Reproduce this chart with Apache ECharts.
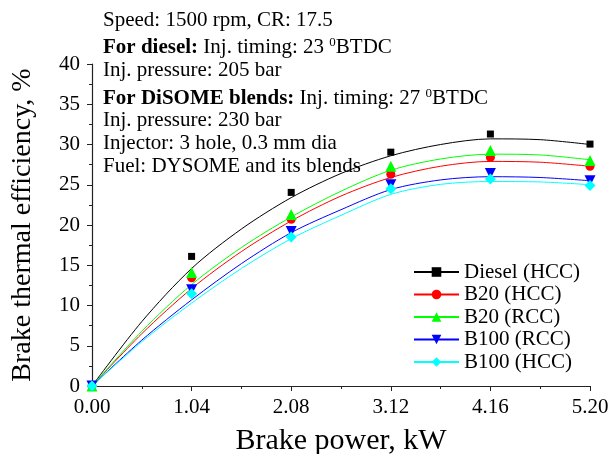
<!DOCTYPE html>
<html>
<head>
<meta charset="utf-8">
<script src="https://cdn.jsdelivr.net/npm/echarts@6/dist/echarts.min.js"></script>
<style>
  html, body { margin: 0; padding: 0; background: #fff; }
  #chart { width: 609px; height: 454px; }
</style>
</head>
<body>
<div id="chart"></div>
<script>
// measured points
const pointX = [0, 1.04, 2.08, 3.12, 4.16, 5.2]
const dieselHcc = [0, 16.1, 24.05, 29.05, 31.3, 30.05]
const b20Hcc = [0, 13.45, 20.7, 26.3, 28.4, 27.3]
const b20Rcc = [0, 14.1, 21.3, 27.3, 29.25, 28.0]
const b100Rcc = [0, 11.95, 19.2, 25.0, 26.4, 25.5]
const b100Hcc = [0, 11.45, 18.5, 24.5, 25.7, 24.9]

// fitted curves
const curveX = [0, 0.52, 1.04, 1.56, 2.08, 2.6, 3.12, 3.64, 4.16, 4.68, 5.2]
const dieselFit = [0, 8.0, 14.6, 19.5, 23.4, 26.4, 28.6, 30.0, 30.7, 30.6, 30.0]
const b20HccFit = [0, 6.5, 12.1, 16.7, 20.5, 23.6, 25.9, 27.3, 27.9, 27.8, 27.3]
const b20RccFit = [0, 6.8, 12.6, 17.2, 21.0, 24.2, 26.8, 28.2, 28.8, 28.7, 28.1]
const b100RccFit = [0, 5.7, 10.7, 15.2, 19.05, 21.9, 24.4, 25.6, 26.0, 25.9, 25.5]
const b100HccFit = [0, 5.5, 10.3, 14.6, 18.3, 21.2, 23.8, 25.05, 25.4, 25.35, 25.0]

const names = ['Diesel (HCC)', 'B20 (HCC)', 'B20 (RCC)', 'B100 (RCC)', 'B100 (HCC)']
const colors = ['#000000', '#ff0000', '#00ff00', '#0000ff', '#00ffff']
const symbols = ['rect', 'circle', 'triangle', 'triangle', 'diamond']
const symbolRotates = [0, 0, 0, 180, 0]
const symbolSizes = [7, 9, 11, 11, 11]
const points = [dieselHcc, b20Hcc, b20Rcc, b100Rcc, b100Hcc]
const fits = [dieselFit, b20HccFit, b20RccFit, b100RccFit, b100HccFit]

const font = '"Liberation Serif", "Times New Roman", serif'

function pairs(xs, ys) {
  return xs.map((x, i) => [x, ys[i]])
}

const series = []
names.forEach((name, i) => {
  series.push({
    name: name,
    type: 'line',
    smooth: 0.3,
    data: pairs(curveX, fits[i]),
    showSymbol: false,
    symbol: symbols[i],
    symbolRotate: symbolRotates[i],
    color: colors[i],
    lineStyle: { width: 1, color: colors[i] },
    silent: true,
    z: 2
  })
})
names.forEach((name, i) => {
  series.push({
    name: name + ' pts',
    type: 'scatter',
    data: pairs(pointX, points[i]),
    symbol: symbols[i],
    symbolRotate: symbolRotates[i],
    symbolSize: symbolSizes[i],
    itemStyle: { color: colors[i], opacity: 1 },
    z: 3
  })
})

const noteLines = [
  { y: 20, text: 'Speed: 1500 rpm, CR: 17.5' },
  { y: 46, text: '{b|For diesel:} Inj. timing: 23 {sup|0}BTDC' },
  { y: 70, text: 'Inj. pressure: 205 bar' },
  { y: 97, text: '{b|For DiSOME blends:} Inj. timing: 27 {sup|0}BTDC' },
  { y: 120, text: 'Inj. pressure: 230 bar' },
  { y: 143, text: 'Injector: 3 hole, 0.3 mm dia' },
  { y: 166, text: 'Fuel: DYSOME and its blends' }
]

const myChart = echarts.init(document.getElementById('chart'))
const option = {
  animation: false,
  backgroundColor: '#ffffff',
  grid: { left: 92, right: 19, top: 64, bottom: 68, containLabel: false, outerBoundsMode: 'none' },
  legend: {
    data: names,
    orient: 'vertical',
    left: 408,
    top: 256,
    itemWidth: 45,
    itemHeight: 12,
    itemGap: 0.5,
    textStyle: { fontFamily: font, fontSize: 21, lineHeight: 22, color: '#000' }
  },
  xAxis: {
    type: 'value',
    min: 0,
    max: 5.2,
    interval: 1.04,
    name: 'Brake power, kW',
    nameLocation: 'middle',
    nameGap: 40,
    nameTextStyle: { fontFamily: font, fontSize: 30, color: '#000' },
    splitLine: { show: false },
    axisLine: { show: true, lineStyle: { color: '#222', width: 1.2 } },
    axisTick: { show: true, length: 5, lineStyle: { color: '#222' } },
    minorTick: { show: true, splitNumber: 2, length: 3, lineStyle: { color: '#222' } },
    axisLabel: {
      margin: 11,
      fontFamily: font,
      fontSize: 21,
      color: '#000',
      formatter: function (v) { return v.toFixed(2) }
    }
  },
  yAxis: {
    type: 'value',
    min: 0,
    max: 40,
    interval: 5,
    name: 'Brake thermal efficiency, %',
    nameLocation: 'middle',
    nameGap: 55,
    nameTextStyle: { fontFamily: font, fontSize: 28, color: '#000' },
    splitLine: { show: false },
    axisLine: { show: true, lineStyle: { color: '#222', width: 1.2 } },
    axisTick: { show: true, length: 5, lineStyle: { color: '#222' } },
    minorTick: { show: true, splitNumber: 2, length: 3, lineStyle: { color: '#222' } },
    axisLabel: { margin: 12, fontFamily: font, fontSize: 21, color: '#000' }
  },
  graphic: noteLines.map((ln) => ({
    type: 'text',
    left: 103,
    top: ln.y - 10,
    z: 10,
    style: {
      text: ln.text,
      fontFamily: font,
      fontSize: 21,
      fill: '#000',
      rich: {
        b: { fontFamily: font, fontSize: 21, fontWeight: 'bold' },
        sup: { fontFamily: font, fontSize: 13, padding: [0, 0, 10, 0] }
      }
    }
  })),
  series: series
}
myChart.setOption(option)
window.addEventListener('resize', function () {
  myChart.resize()
})
</script>
</body>
</html>
